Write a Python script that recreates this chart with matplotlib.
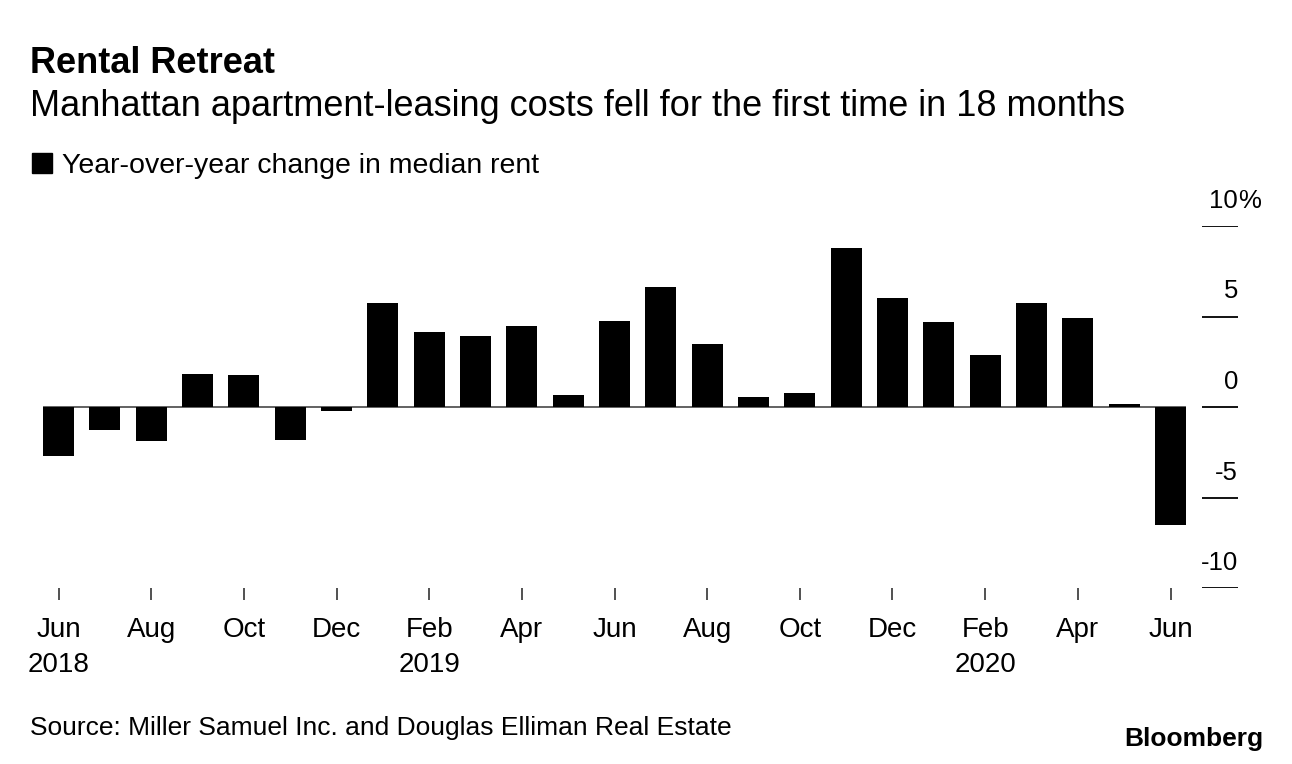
import matplotlib.pyplot as plt
from matplotlib.patches import Rectangle

plt.rcParams['font.family'] = ['Liberation Sans', 'DejaVu Sans']

# données (variation annuelle du loyer médian, %)
mois = ["Jun", "Jul", "Aug", "Sep", "Oct", "Nov", "Dec",
        "Jan", "Feb", "Mar", "Apr", "May", "Jun", "Jul", "Aug", "Sep", "Oct", "Nov", "Dec",
        "Jan", "Feb", "Mar", "Apr", "May", "Jun"]
annees = {0: "2018", 8: "2019", 20: "2020"}
variation = [-2.7, -1.25, -1.9, 1.85, 1.75, -1.8, -0.2,
             5.75, 4.15, 3.9, 4.45, 0.65, 4.75, 6.65, 3.5, 0.57, 0.8, 8.8, 6.0,
             4.7, 2.85, 5.75, 4.9, 0.15, -6.5]
graduations = [10, 5, 0, -5, -10]

W, H = 1292, 764
fig = plt.figure(figsize=(W / 100, H / 100), dpi=100)

# axe placé en pixels
gauche, droite, bas, haut = 40, 1240, 588, 226
ax = fig.add_axes([gauche / W, 1 - bas / H, (droite - gauche) / W, (bas - haut) / H])
pas = (1170.5 - 58.5) / 24
ax.set_xlim((gauche - 58.5) / pas, (droite - 58.5) / pas)
ax.set_ylim(-10, 10)
for s in ax.spines.values():
    s.set_visible(False)
ax.set_yticks([])

x = list(range(len(variation)))
ax.bar(x, variation, width=0.67, color="black", zorder=3)
ax.hlines(0, -0.335, len(variation) - 1 + 0.335, color="#555555", lw=1.3, zorder=2)

# petites lignes de graduation à droite
x_deb = (1202 - 58.5) / pas
x_fin = (1238 - 58.5) / pas
for g in graduations:
    ax.hlines(g, x_deb, x_fin, color="black", lw=1.3)
    ax.text(x_fin, g + 18 / 18.1, str(g), ha="right", va="baseline", fontsize=18.5)
ax.text(x_fin, 10 + 18 / 18.1, "%", ha="left", va="baseline", fontsize=18.5)

# axe des x : un mois sur deux
positions = list(range(0, len(mois), 2))
ax.set_xticks(positions)
ax.set_xticklabels([])
ax.tick_params(axis="x", length=8.6, width=1.2, color="#333333", direction="out")
trans = ax.get_xaxis_transform()
for p in positions:
    ax.text(p, -49 / (bas - haut), mois[p], ha="center", va="baseline", fontsize=20, transform=trans)
    if p in annees:
        ax.text(p, -84 / (bas - haut), annees[p], ha="center", va="baseline", fontsize=20, transform=trans)

# titres et légende
fig.text(30 / W, 1 - 73 / H, "Rental Retreat", fontsize=26, fontweight="bold", va="baseline")
fig.text(30 / W, 1 - 116 / H, "Manhattan apartment-leasing costs fell for the first time in 18 months",
         fontsize=26, va="baseline")
fig.patches.append(Rectangle((32 / W, 1 - 173 / H), 20 / W, 20 / H, color="black", transform=fig.transFigure))
fig.text(62 / W, 1 - 173 / H, "Year-over-year change in median rent", fontsize=20.5, va="baseline")

fig.text(30 / W, 1 - 735 / H, "Source: Miller Samuel Inc. and Douglas Elliman Real Estate", fontsize=19, va="baseline")
fig.text(1263 / W, 1 - 746 / H, "Bloomberg", fontsize=19, fontweight="bold", ha="right", va="baseline")

fig.savefig("out.png", dpi=100)
